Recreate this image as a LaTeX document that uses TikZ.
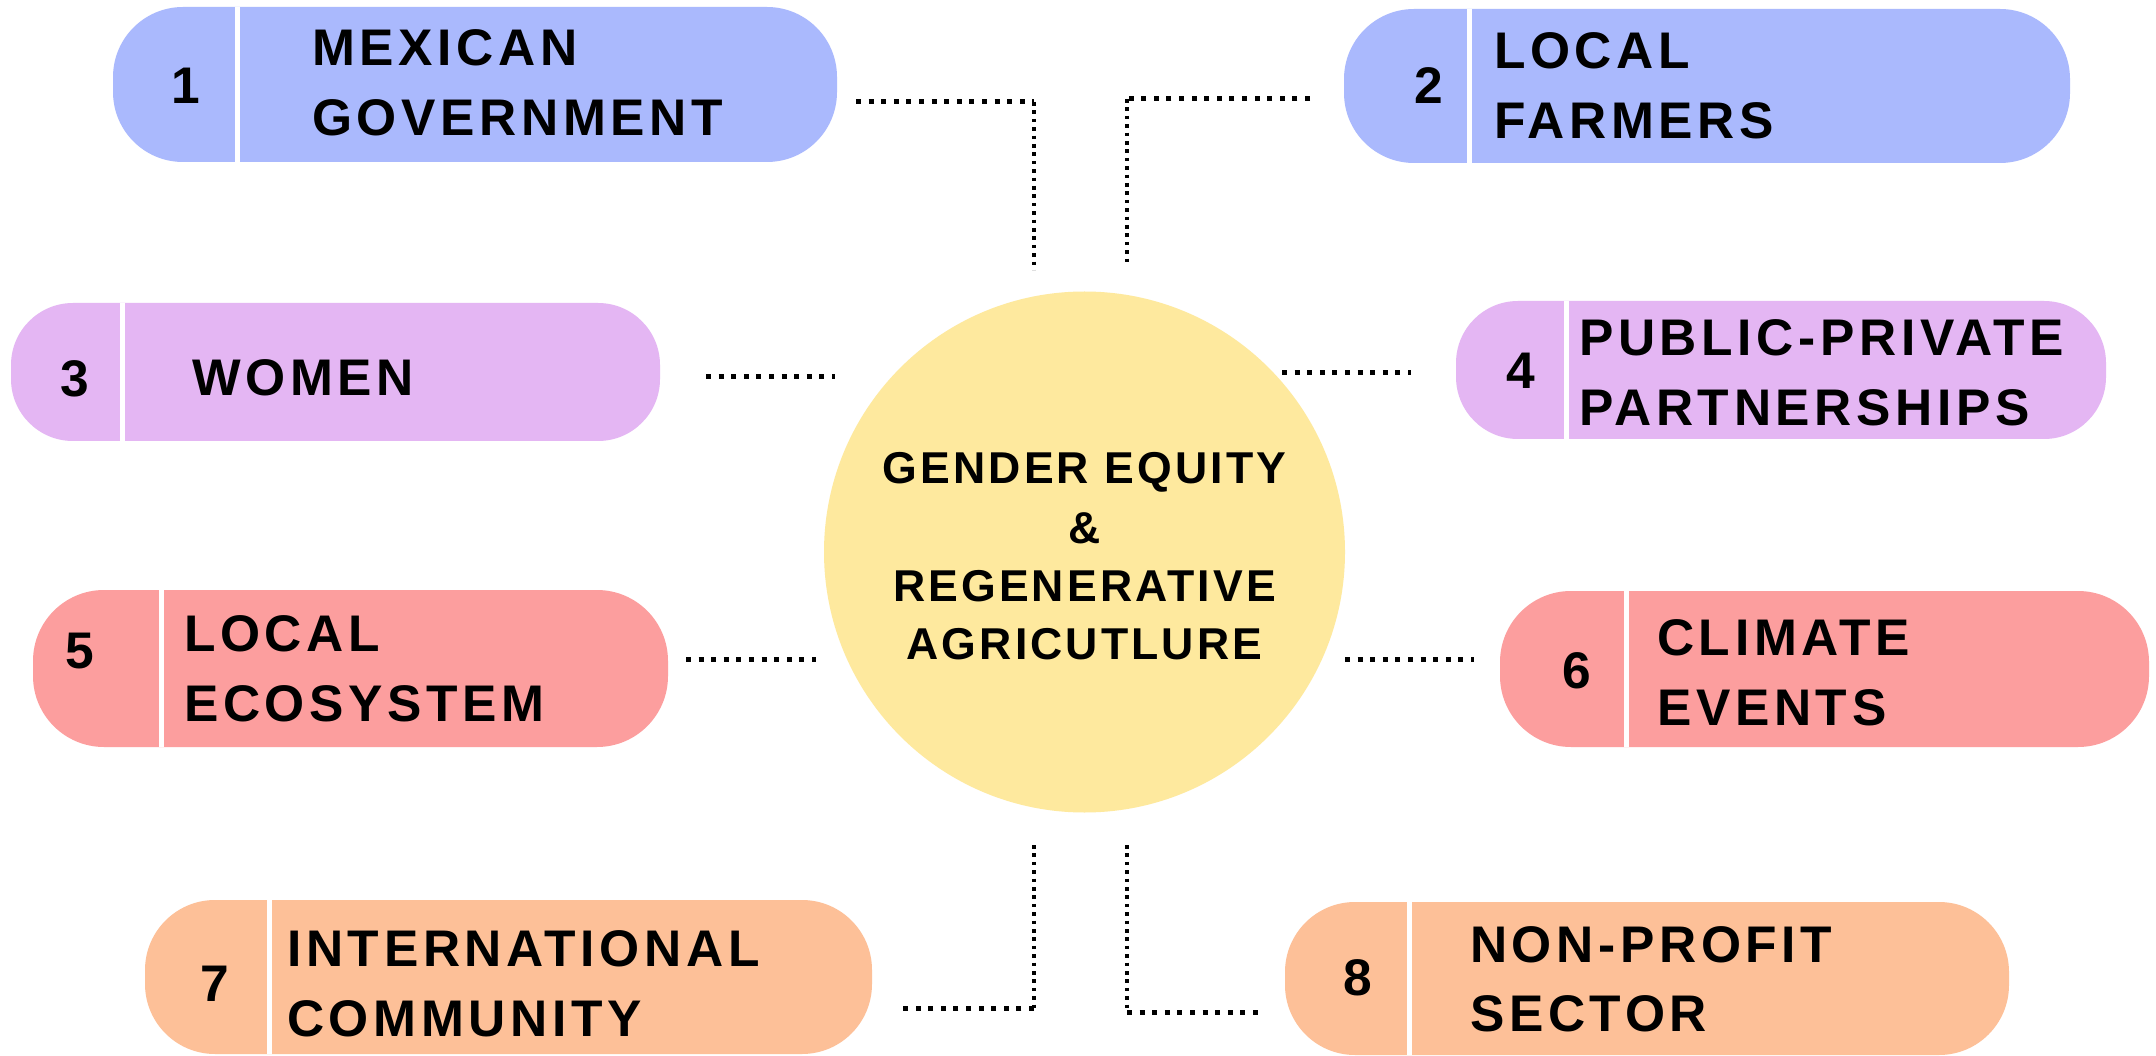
\documentclass[tikz,border=0pt]{standalone}
\usepackage{fontspec}
\newfontfamily\lbl{Liberation Sans}[LetterSpace=9]
\newfontfamily\ctr{Liberation Sans}[LetterSpace=7]
\definecolor{cblue}{HTML}{AAB9FD}
\definecolor{cpurple}{HTML}{E4B6F3}
\definecolor{cred}{HTML}{FC9E9E}
\definecolor{corange}{HTML}{FDC098}
\definecolor{cyellow}{HTML}{FEE99E}
\tikzset{
  stakebox/.style={draw=none, rectangle, inner sep=0pt},
  divider/.style={white, line width=5pt},
  boxtext/.style={anchor=base west, inner sep=0pt, font=\lbl\bfseries\fontsize{51.5}{70}\selectfont},
  numtext/.style={anchor=base, inner sep=0pt, font=\lbl\bfseries\fontsize{51.5}{70}\selectfont},
  ctrtext/.style={anchor=base, inner sep=0pt, font=\ctr\bfseries\fontsize{44.6}{59}\selectfont},
  hdot/.style={black, line width=5pt, dash pattern=on 5pt off 7.6pt},
  vdot/.style={black, line width=3.6pt, dash pattern=on 3.6pt off 4.8pt},
}
\begin{document}
\begin{tikzpicture}[x=1pt,y=-1pt]
\useasboundingbox[fill=white] (0,0) rectangle (2156,1056);

% central circle
\node[circle, fill=cyellow, inner sep=0pt, minimum size=521pt] (c) at (1084.5,552) {};
\node[ctrtext] (ct1) at (1084.5,483) {GENDER EQUITY};
\node[ctrtext] (ct2) at (1084.5,543) {\&};
\node[ctrtext] (ct3) at (1084.5,601) {REGENERATIVE};
\node[ctrtext] (ct4) at (1084.5,659) {AGRICUTLURE};

% boxes
\node[stakebox, fill=cblue, minimum width=724pt, minimum height=155pt, rounded corners=70pt] (b1) at (475,84.5) {};
\node[stakebox, fill=cblue, minimum width=726pt, minimum height=154pt, rounded corners=70pt] (b2) at (1707,86) {};
\node[stakebox, fill=cpurple, minimum width=649pt, minimum height=138pt, rounded corners=62pt] (b3) at (335.5,372) {};
\node[stakebox, fill=cpurple, minimum width=650pt, minimum height=138pt, rounded corners=62pt] (b4) at (1781,370) {};
\node[stakebox, fill=cred, minimum width=635pt, minimum height=157pt, rounded corners=71pt] (b5) at (350.5,668.5) {};
\node[stakebox, fill=cred, minimum width=649pt, minimum height=156pt, rounded corners=71pt] (b6) at (1824.5,669) {};
\node[stakebox, fill=corange, minimum width=727pt, minimum height=154pt, rounded corners=70pt] (b7) at (508.5,977) {};
\node[stakebox, fill=corange, minimum width=724pt, minimum height=153pt, rounded corners=70pt] (b8) at (1647,978.5) {};

% dividers
\draw[divider] (b1.north -| 237,0) -- (b1.south -| 237,0);
\draw[divider] (b2.north -| 1469,0) -- (b2.south -| 1469,0);
\draw[divider] (b3.north -| 122,0) -- (b3.south -| 122,0);
\draw[divider] (b4.north -| 1566,0) -- (b4.south -| 1566,0);
\draw[divider] (b5.north -| 161,0) -- (b5.south -| 161,0);
\draw[divider] (b6.north -| 1626,0) -- (b6.south -| 1626,0);
\draw[divider] (b7.north -| 269,0) -- (b7.south -| 269,0);
\draw[divider] (b8.north -| 1409,0) -- (b8.south -| 1409,0);

% numbers
\node[numtext] (n1) at (186,103.5) {1};
\node[numtext] (n2) at (1429,103.5) {2};
\node[numtext] (n3) at (75,396.5) {3};
\node[numtext] (n4) at (1521,388.5) {4};
\node[numtext] (n5) at (80,668.5) {5};
\node[numtext] (n6) at (1577,688.5) {6};
\node[numtext] (n7) at (215,1001.5) {7};
\node[numtext] (n8) at (1358,995.5) {8};

% labels
\node[boxtext] (t1a) at (312,65.5) {MEXICAN};
\node[boxtext] (t1b) at (312,135.5) {GOVERNMENT};
\node[boxtext] (t2a) at (1494,68.5) {LOCAL};
\node[boxtext] (t2b) at (1494,138.5) {FARMERS};
\node[boxtext] (t3a) at (192,395.5) {WOMEN};
\node[boxtext] (t4a) at (1579,355.5) {PUBLIC-PRIVATE};
\node[boxtext] (t4b) at (1579,425.5) {PARTNERSHIPS};
\node[boxtext] (t5a) at (184,651.5) {LOCAL};
\node[boxtext] (t5b) at (184,721.5) {ECOSYSTEM};
\node[boxtext] (t6a) at (1657,655.5) {CLIMATE};
\node[boxtext] (t6b) at (1657,725.5) {EVENTS};
\node[boxtext] (t7a) at (287,966.5) {INTERNATIONAL};
\node[boxtext] (t7b) at (287,1036.5) {COMMUNITY};
\node[boxtext] (t8a) at (1470,962.5) {NON-PROFIT};
\node[boxtext] (t8b) at (1470,1031.5) {SECTOR};

% connector end points
\coordinate (p1a) at (856,102); \coordinate (p1b) at (1034,102); \coordinate (p1c) at (1034,270);
\coordinate (p2a) at (1310,99); \coordinate (p2b) at (1127,99); \coordinate (p2c) at (1127,262);
\coordinate (p3a) at (706,377); \coordinate (p3b) at (835,377);
\coordinate (p4a) at (1282,373); \coordinate (p4b) at (1411,373);
\coordinate (p5a) at (686,659); \coordinate (p5b) at (816,659);
\coordinate (p6a) at (1345,659); \coordinate (p6b) at (1474,659);
\coordinate (p7a) at (1034,845); \coordinate (p7b) at (1034,1008); \coordinate (p7c) at (898,1008);
\coordinate (p8a) at (1127,845); \coordinate (p8b) at (1127,1012); \coordinate (p8c) at (1265,1012);

% connectors
\draw[hdot] (p1a) -- (p1b);
\draw[vdot] (p1b) -- (p1c);
\draw[hdot] (p2a) -- (p2b);
\draw[vdot] (p2b) -- (p2c);
\draw[hdot] (p3a) -- (p3b);
\draw[hdot] (p4a) -- (p4b);
\draw[hdot] (p5a) -- (p5b);
\draw[hdot] (p6a) -- (p6b);
\draw[vdot] (p7a) -- (p7b);
\draw[hdot] (p7b) -- (p7c);
\draw[vdot] (p8a) -- (p8b);
\draw[hdot] (p8b) -- (p8c);
\end{tikzpicture}
\end{document}
